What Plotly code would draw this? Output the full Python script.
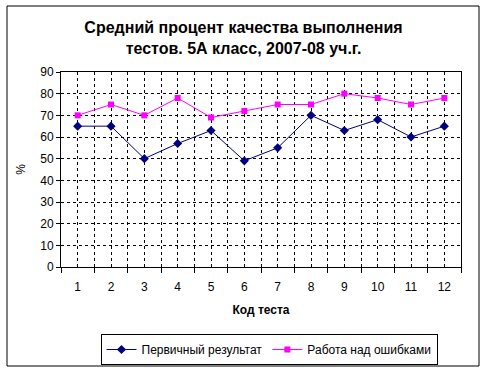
import plotly.graph_objects as go

tests = [1, 2, 3, 4, 5, 6, 7, 8, 9, 10, 11, 12]
primary = [65, 65, 50, 57, 63, 49, 55, 70, 63, 68, 60, 65]
corrections = [70, 75, 70, 78, 69, 72, 75, 75, 80, 78, 75, 78]
name_primary = "Первичный результат"
name_corr = "Работа над ошибками"
title = "Средний процент качества выполнения<br>тестов. 5А класс, 2007-08 уч.г."
yticks = [0, 10, 20, 30, 40, 50, 60, 70, 80, 90]

FONT = "Liberation Sans, Arial, sans-serif"
DASH = "3px,3px"

fig = go.Figure()
fig.add_trace(go.Scatter(
    x=tests, y=primary, name=name_primary, mode="lines+markers",
    line=dict(color="#000080", width=1),
    marker=dict(symbol="diamond", size=7, color="#000080"),
))
fig.add_trace(go.Scatter(
    x=tests, y=corrections, name=name_corr, mode="lines+markers",
    line=dict(color="#FF00FF", width=1),
    marker=dict(symbol="square", size=6, color="#FF00FF"),
))

L, R, T, B = 61, 26, 72, 106
W, H = 487, 373
pw, ph = W - L - R, H - T - B

fig.update_layout(
    width=W, height=H,
    margin=dict(l=L, r=R, t=T, b=B, autoexpand=False),
    paper_bgcolor="white", plot_bgcolor="white",
    font=dict(family=FONT, size=12, color="black"),
    title=dict(text=title, x=0.5, xref="container", xanchor="center",
               y=1 - 33 / H, yref="container", yanchor="middle",
               font=dict(family=FONT, size=16, color="black", weight="bold")),
    showlegend=True,
    legend=dict(orientation="h", x=0.52, xanchor="center",
                y=(ph - (334 - T)) / ph, yanchor="top",
                bordercolor="black", borderwidth=1, bgcolor="white",
                font=dict(family=FONT, size=12), itemwidth=30,
                tracegroupgap=0),
    xaxis=dict(
        range=[0.5, 12.5], tickmode="array", tickvals=tests,
        ticktext=[str(t) for t in tests],
        ticks="", showline=True, linecolor="black", linewidth=1, mirror=True,
        showgrid=True, gridcolor="black", griddash=DASH, gridwidth=1,
        ticklabelstandoff=9, automargin=False,
        minor=dict(tickmode="linear", tick0=0.5, dtick=1, ticks="outside",
                   ticklen=5, tickcolor="black", showgrid=True,
                   gridcolor="black", griddash=DASH, gridwidth=1),
        title=dict(text="Код теста", standoff=12,
                   font=dict(family=FONT, size=12, weight="bold")),
        zeroline=False, fixedrange=True,
    ),
    yaxis=dict(
        range=[0, 90], tickmode="array", tickvals=yticks,
        ticks="outside", ticklen=4, tickcolor="black",
        showline=True, linecolor="black", linewidth=1, mirror=True,
        showgrid=True, gridcolor="black", griddash=DASH, gridwidth=1,
        automargin=False,
        title=dict(text="%", standoff=12, font=dict(family=FONT, size=12)),
        zeroline=False, fixedrange=True,
    ),
)

# outer chart border
fig.add_shape(type="rect", xref="paper", yref="paper",
              x0=(7 - L) / pw, x1=(479 - L) / pw,
              y0=(T + ph - 366) / ph, y1=(T + ph - 6) / ph,
              line=dict(color="black", width=1), fillcolor="rgba(0,0,0,0)",
              layer="above")

fig.write_html("out.html", config={"displayModeBar": False},
               post_script="document.body.style.margin='0px';")
